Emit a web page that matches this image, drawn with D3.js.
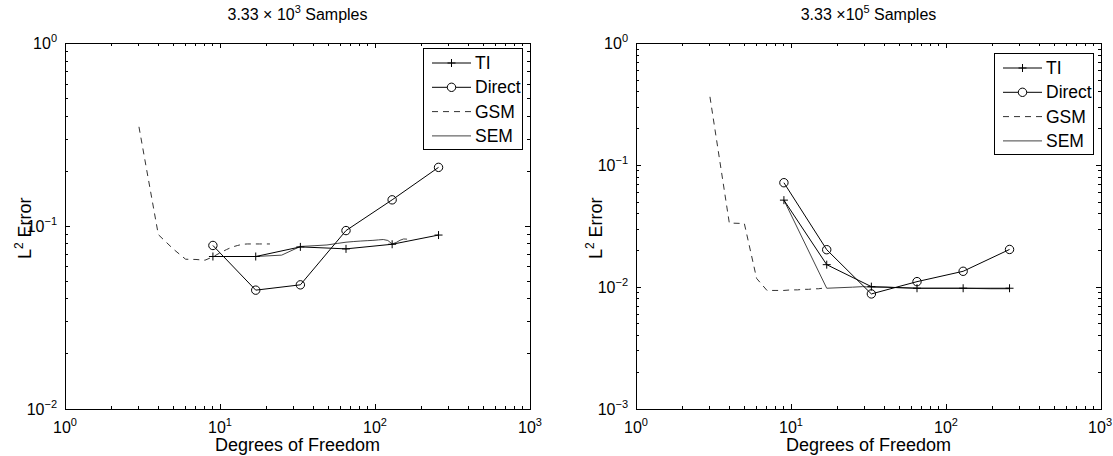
<!DOCTYPE html>
<html>
<head>
<meta charset="utf-8">
<script src="https://cdn.jsdelivr.net/npm/d3@7"></script>
<style>
  body { margin: 0; background: #fff; }
  svg { display: block; font-family: "Liberation Sans", Arial, sans-serif; }
</style>
</head>
<body>
<div id="chart"></div>
<script>
// values
const dof = [9, 17, 33, 65, 129, 257];

const tiLow = [0.0683, 0.0683, 0.0771, 0.0752, 0.0797, 0.0895];
const directLow = [0.0785, 0.0447, 0.0478, 0.0947, 0.1395, 0.210];
const gsmLowDof = [3, 4, 5, 6, 7, 8, 9, 10, 11, 12, 13, 14, 15, 16, 17, 18, 19, 20, 21];
const gsmLow = [0.35, 0.090, 0.075, 0.066, 0.0658, 0.0652, 0.068, 0.0715, 0.0745, 0.077, 0.0785,
  0.0797, 0.080, 0.080, 0.080, 0.080, 0.080, 0.080, 0.080];
const semLowDof = [9, 17, 25, 33, 41, 49, 57, 65, 73, 81, 89, 97, 105, 113, 121, 129, 137, 145, 153, 161];
const semLow = [0.0683, 0.0683, 0.0695, 0.0775, 0.0783, 0.0790, 0.0805, 0.0818, 0.0825, 0.0830,
  0.0834, 0.0837, 0.0842, 0.0846, 0.0836, 0.0800, 0.0815, 0.0838, 0.0852, 0.0850];

const tiHigh = [0.0518, 0.0153, 0.0101, 0.0098, 0.0098, 0.0098];
const directHigh = [0.0720, 0.0203, 0.0088, 0.0111, 0.0135, 0.0204];
const gsmHighDof = [3, 4, 5, 6, 7, 8, 9, 10, 11, 12, 13, 14, 15, 16, 17];
const gsmHigh = [0.365, 0.0336, 0.0333, 0.0118, 0.0094, 0.0094, 0.0094, 0.0095, 0.0095, 0.0096,
  0.0096, 0.0097, 0.0097, 0.0098, 0.0098];
const semHighDof = [9, 17, 25, 29, 33, 41, 49, 65, 97, 129, 193, 257];
const semHigh = [0.0518, 0.0098, 0.0100, 0.0101, 0.0100, 0.0100, 0.0099, 0.0098, 0.0098, 0.0098, 0.0097, 0.0097];

const legendNames = ["TI", "Direct", "GSM", "SEM"];
const xDomain = [1, 1000];

const width = 1113;
const height = 456;
const plotTop = 43.5;
const plotBottom = 409;

const panels = [
  {
    left: 65, right: 530, yDomain: [0.01, 1], titleBase: "3.33 \u00d7 10", titleExp: "3",
    ti: tiLow, direct: directLow, gsmX: gsmLowDof, gsm: gsmLow, semX: semLowDof, sem: semLow,
    legendTop: 48
  },
  {
    left: 636, right: 1101, yDomain: [0.001, 1], titleBase: "3.33 \u00d710", titleExp: "5",
    ti: tiHigh, direct: directHigh, gsmX: gsmHighDof, gsm: gsmHigh, semX: semHighDof, sem: semHigh,
    legendTop: 53
  }
];

const svg = d3.select("#chart").append("svg")
  .attr("width", width)
  .attr("height", height);

function powerLabel(sel, exp, supSize) {
  sel.append("tspan").text("10");
  sel.append("tspan")
    .attr("dy", -7)
    .attr("font-size", supSize)
    .text(exp < 0 ? "\u2212" + (-exp) : String(exp));
}

function ticksFor(domain) {
  const lo = Math.round(Math.log10(domain[0]));
  const hi = Math.round(Math.log10(domain[1]));
  const major = [], minor = [];
  for (let e = lo; e <= hi; e++) {
    major.push(e);
    if (e < hi) for (let m = 2; m <= 9; m++) minor.push(m * Math.pow(10, e));
  }
  return { major, minor };
}

function drawPanel(p) {
  const x = d3.scaleLog().domain(xDomain).range([p.left, p.right]);
  const y = d3.scaleLog().domain(p.yDomain).range([plotBottom, plotTop]);
  const g = svg.append("g");

  // ticks, inward on all four sides
  const tx = ticksFor(xDomain);
  const ty = ticksFor(p.yDomain);
  const tickG = g.append("g").attr("stroke", "#000").attr("stroke-width", 1)
    .attr("shape-rendering", "crispEdges");
  const majorLen = 4.6, minorLen = 2.8;

  tx.major.forEach(e => {
    const v = x(Math.pow(10, e));
    tickG.append("line").attr("x1", v).attr("x2", v).attr("y1", plotBottom).attr("y2", plotBottom - majorLen);
    tickG.append("line").attr("x1", v).attr("x2", v).attr("y1", plotTop).attr("y2", plotTop + majorLen);
  });
  tx.minor.forEach(m => {
    const v = x(m);
    tickG.append("line").attr("x1", v).attr("x2", v).attr("y1", plotBottom).attr("y2", plotBottom - minorLen);
    tickG.append("line").attr("x1", v).attr("x2", v).attr("y1", plotTop).attr("y2", plotTop + minorLen);
  });
  ty.major.forEach(e => {
    const v = y(Math.pow(10, e));
    tickG.append("line").attr("y1", v).attr("y2", v).attr("x1", p.left).attr("x2", p.left + majorLen);
    tickG.append("line").attr("y1", v).attr("y2", v).attr("x1", p.right).attr("x2", p.right - majorLen);
  });
  ty.minor.forEach(m => {
    const v = y(m);
    tickG.append("line").attr("y1", v).attr("y2", v).attr("x1", p.left).attr("x2", p.left + minorLen);
    tickG.append("line").attr("y1", v).attr("y2", v).attr("x1", p.right).attr("x2", p.right - minorLen);
  });

  g.append("rect")
    .attr("x", p.left).attr("y", plotTop)
    .attr("width", p.right - p.left).attr("height", plotBottom - plotTop)
    .attr("fill", "none").attr("stroke", "#000").attr("stroke-width", 1)
    .attr("shape-rendering", "crispEdges");

  // tick labels
  tx.major.forEach(e => {
    const t = g.append("text")
      .attr("x", x(Math.pow(10, e)))
      .attr("y", plotBottom + 24)
      .attr("text-anchor", "middle")
      .attr("font-size", 16);
    powerLabel(t, e, 11);
    // keep the last label inside the page
    const box = t.node().getBBox();
    if (box.x + box.width > width - 1) t.attr("x", x(Math.pow(10, e)) - (box.x + box.width - width + 1));
  });
  ty.major.forEach(e => {
    const t = g.append("text")
      .attr("x", p.left - 8)
      .attr("y", y(Math.pow(10, e)) + 5.5)
      .attr("text-anchor", "end")
      .attr("font-size", 16);
    powerLabel(t, e, 11);
  });

  // titles and axis labels
  const title = g.append("text")
    .attr("x", (p.left + p.right) / 2)
    .attr("y", 20)
    .attr("text-anchor", "middle")
    .attr("font-size", 16);
  title.append("tspan").text(p.titleBase);
  title.append("tspan").attr("dy", -7).attr("font-size", 11).text(p.titleExp);
  title.append("tspan").attr("dy", 7).text(" Samples");

  g.append("text")
    .attr("x", (p.left + p.right) / 2)
    .attr("y", 451)
    .attr("text-anchor", "middle")
    .attr("font-size", 18)
    .text("Degrees of Freedom");

  const yl = g.append("text")
    .attr("transform", `translate(${p.left - 34},${(plotTop + plotBottom) / 2 + 2}) rotate(-90)`)
    .attr("text-anchor", "middle")
    .attr("font-size", 18);
  yl.append("tspan").text("L");
  yl.append("tspan").attr("dy", -8).attr("font-size", 12).text("2");
  yl.append("tspan").attr("dy", 8).text(" Error");

  // series
  const line = d3.line().x(d => x(d[0])).y(d => y(d[1]));
  const plot = g.append("g").attr("fill", "none");

  plot.append("path")
    .attr("d", line(d3.zip(p.gsmX, p.gsm)))
    .attr("stroke", "#333").attr("stroke-width", 1).attr("stroke-dasharray", "6,5");
  plot.append("path")
    .attr("d", line(d3.zip(p.semX, p.sem)))
    .attr("stroke", "#444").attr("stroke-width", 1);
  plot.append("path")
    .attr("d", line(d3.zip(dof, p.ti)))
    .attr("stroke", "#000").attr("stroke-width", 1);
  plot.append("path")
    .attr("d", line(d3.zip(dof, p.direct)))
    .attr("stroke", "#000").attr("stroke-width", 1);

  const plus = (gg, cx, cy) => {
    gg.append("path")
      .attr("d", `M${cx - 4},${cy}H${cx + 4}M${cx},${cy - 4}V${cy + 4}`)
      .attr("stroke", "#000").attr("stroke-width", 1);
  };
  dof.forEach((d, i) => plus(plot, x(d), y(p.ti[i])));
  plot.selectAll("circle.direct")
    .data(d3.zip(dof, p.direct))
    .join("circle")
    .attr("class", "direct")
    .attr("cx", d => x(d[0])).attr("cy", d => y(d[1]))
    .attr("r", 4.2)
    .attr("fill", "none").attr("stroke", "#000").attr("stroke-width", 1);

  // legend
  const lw = 99, lh = 101;
  const lx = p.right - 8 - lw;
  const ly = p.legendTop;
  const lg = g.append("g");
  lg.append("rect")
    .attr("x", lx).attr("y", ly).attr("width", lw).attr("height", lh)
    .attr("fill", "#fff").attr("stroke", "#000").attr("stroke-width", 1)
    .attr("shape-rendering", "crispEdges");
  const styles = [
    { stroke: "#000", dash: null },
    { stroke: "#000", dash: null },
    { stroke: "#333", dash: "6,5" },
    { stroke: "#444", dash: null }
  ];
  legendNames.forEach((name, i) => {
    const cy = ly + 15 + i * 24.3;
    lg.append("line")
      .attr("x1", lx + 9).attr("x2", lx + 48).attr("y1", cy).attr("y2", cy)
      .attr("stroke", styles[i].stroke).attr("stroke-width", 1)
      .attr("stroke-dasharray", styles[i].dash);
    const mx = lx + 28.5;
    if (i === 0) plus(lg, mx, cy);
    if (i === 1) lg.append("circle").attr("cx", mx).attr("cy", cy).attr("r", 4.2)
      .attr("fill", "#fff").attr("stroke", "#000").attr("stroke-width", 1);
    lg.append("text")
      .attr("x", lx + 52).attr("y", cy + 6)
      .attr("font-size", 17.5)
      .text(name);
  });
}

panels.forEach(drawPanel);
</script>
</body>
</html>
